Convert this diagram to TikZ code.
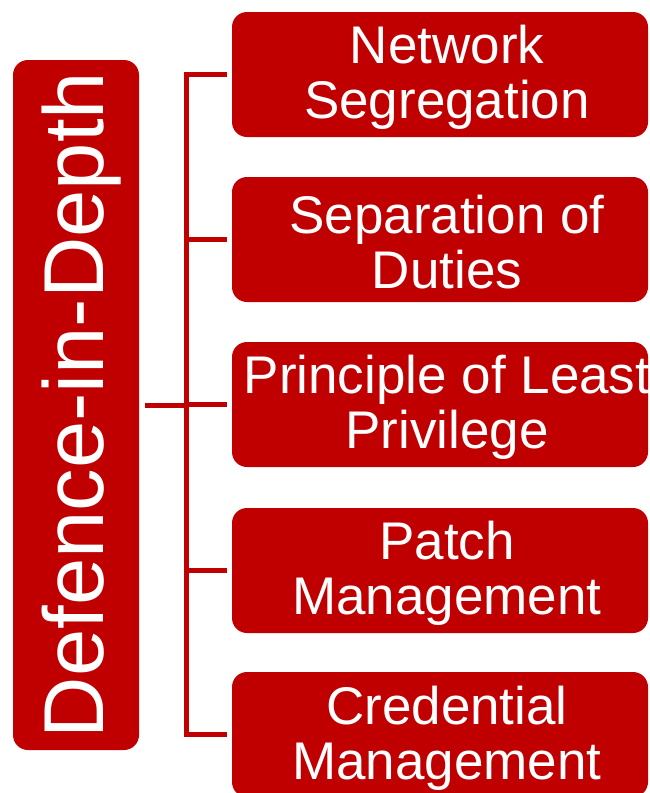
\documentclass[tikz,border=0pt]{standalone}
\usepackage{fontspec}
\setmainfont{Liberation Sans}
\definecolor{deepred}{HTML}{C00000}
\begin{document}
\begin{tikzpicture}[x=1pt,y=-1pt,
  topicbox/.style={fill=deepred, draw=none, rounded corners=15pt,
    minimum width=416pt, minimum height=125pt, inner sep=0pt},
  topictext/.style={text=white, align=center, inner sep=0pt,
    font=\fontsize{53}{55}\selectfont},
  rootbox/.style={fill=deepred, draw=none, rounded corners=15pt,
    minimum width=126pt, minimum height=690pt, inner sep=0pt},
  roottext/.style={text=white, inner sep=0pt, rotate=90, anchor=base,
    font=\fontsize{85}{90}\selectfont},
  link/.style={draw=deepred, line width=5pt}]
  \useasboundingbox (0,0) rectangle (650,793);
  \clip (0,0) rectangle (650,793);

  % root of the tree
  \node[rootbox] (root) at (76,405) {};
  \node[roottext] (roottitle) at (103,405) {Defence-in-Depth};

  % the five practices
  \node[topicbox] (b1) at (440,74.5) {};
  \node[topicbox] (b2) at (440,239.5) {};
  \node[topicbox] (b3) at (440,404.5) {};
  \node[topicbox] (b4) at (440,570.5) {};
  \node[topicbox] (b5) at (440,734.5) {};
  \node[topictext] (t1) at ([xshift=7pt,yshift=-3pt]b1.center) {Network\\Segregation};
  \node[topictext] (t2) at ([xshift=7pt,yshift=-3pt]b2.center) {Separation of\\Duties};
  \node[topictext] (t3) at ([xshift=7pt,yshift=-3pt]b3.center) {Principle of Least\\Privilege};
  \node[topictext] (t4) at ([xshift=7pt,yshift=-3pt]b4.center) {Patch\\Management};
  \node[topictext] (t5) at ([xshift=7pt,yshift=-4pt]b5.center) {Credential\\Management};

  % bracket connector
  \coordinate (spine) at (186,405);
  \draw[link] ([xshift=6pt]root.east |- spine) -- (spine);
  \draw[link] (spine |- b1.west) -- (spine |- b5.west);
  \foreach \b in {b1,b2,b3,b4,b5}
    \draw[link] ([xshift=-2.5pt]spine |- \b.west) -- ([xshift=-5pt]\b.west);
\end{tikzpicture}
\end{document}
